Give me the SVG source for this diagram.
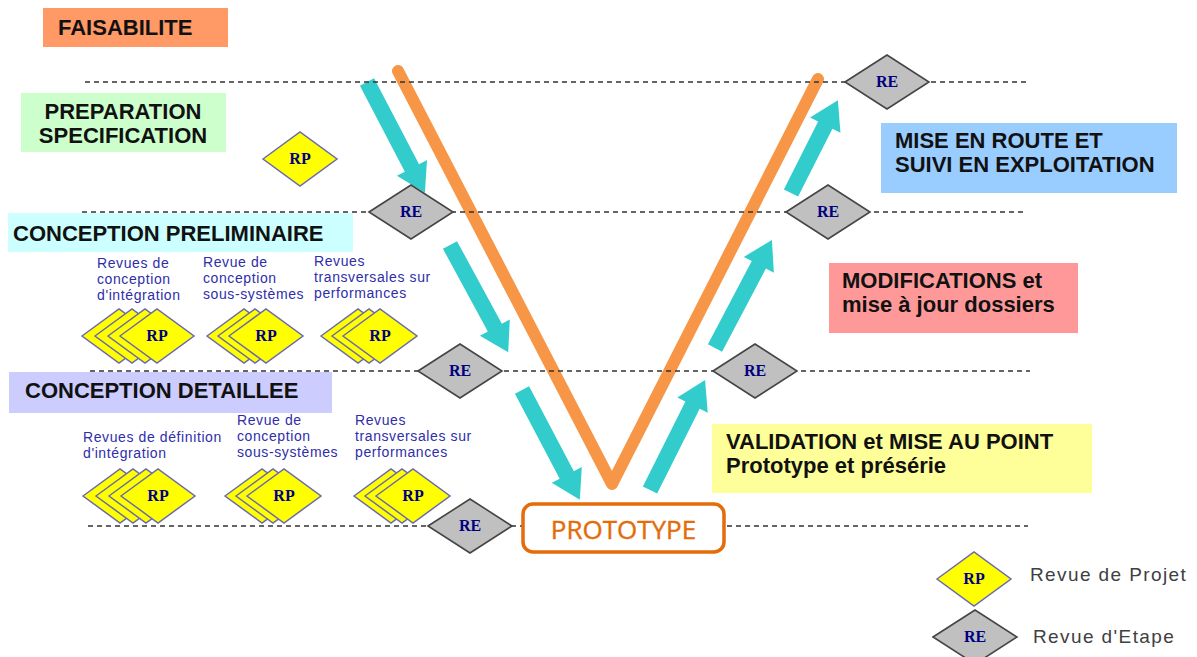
<svg xmlns="http://www.w3.org/2000/svg" width="1197" height="657" viewBox="0 0 1197 657">
<style>
.h{font-family:"Liberation Sans",Arial,sans-serif;font-weight:bold;font-size:22px;fill:#111}
.lbl{font-family:"Liberation Sans",Arial,sans-serif;font-size:14px;letter-spacing:0.6px;fill:#2E2EAA}
.leg{font-family:"Liberation Sans",Arial,sans-serif;font-size:19px;letter-spacing:1.4px;fill:#404040}
.dt{font-family:"Liberation Serif","Times New Roman",serif;font-weight:bold;font-size:16px;fill:#000080;text-anchor:middle}
.re{fill:#C0C0C0;stroke:#444;stroke-width:1.6}
.rp{fill:#FFFF00;stroke:#6A6AB0;stroke-width:1.5}
.dash{stroke:#333;stroke-width:1.5;stroke-dasharray:5 4;fill:none}
.arr{fill:#33CCCC}
</style>
<defs>
<polygon id="reShape" class="re" points="-42,0 0,-27 42,0 0,27"/>
<polygon id="rpShape" class="rp" points="-37,0 0,-27 37,0 0,27"/>
</defs>
<rect width="1197" height="657" fill="#fff"/>

<g id="phase-boxes">
<g id="faisabilite"><rect x="43" y="8" width="185" height="39" fill="#FF9966"/><text class="h" x="58" y="35">FAISABILITE</text></g>
<g id="preparation"><rect x="21" y="93" width="205" height="59" fill="#CCFFCC"/><text class="h" x="123" y="119" text-anchor="middle">PREPARATION</text><text class="h" x="123" y="143" text-anchor="middle">SPECIFICATION</text></g>
<g id="conception-prelim"><rect x="8" y="213" width="345" height="39" fill="#CCFFFF"/><text class="h" x="13" y="241">CONCEPTION PRELIMINAIRE</text></g>
<g id="conception-detail"><rect x="9" y="372" width="323" height="41" fill="#CCCCFF"/><text class="h" x="25" y="398">CONCEPTION DETAILLEE</text></g>
<g id="mise-en-route"><rect x="881" y="123" width="296" height="70" fill="#99CCFF"/><text class="h" x="895" y="148">MISE EN ROUTE ET</text><text class="h" x="895" y="172">SUIVI EN EXPLOITATION</text></g>
<g id="modifications"><rect x="829" y="263" width="249" height="70" fill="#FF9999"/><text class="h" x="842" y="288">MODIFICATIONS et</text><text class="h" x="842" y="312">mise à jour dossiers</text></g>
<g id="validation"><rect x="712" y="424" width="380" height="69" fill="#FFFF99"/><text class="h" x="726" y="449">VALIDATION et MISE AU POINT</text><text class="h" x="726" y="473">Prototype et présérie</text></g>
</g>

<g id="connectors">
<polyline points="398,71 612,484 818,79" fill="none" stroke="#F79646" stroke-width="12" stroke-linecap="round" stroke-linejoin="round"/>
<g id="arrows">
<polygon class="arr" transform="translate(367,82) rotate(62.4)" points="0,-8 97,-8 97,-17 125,0 97,17 97,8 0,8"/>
<polygon class="arr" transform="translate(450,245) rotate(61.5)" points="0,-8 94,-8 94,-17 122,0 94,17 94,8 0,8"/>
<polygon class="arr" transform="translate(522,390) rotate(62.2)" points="0,-8 96,-8 96,-17 124,0 96,17 96,8 0,8"/>
<polygon class="arr" transform="translate(650,490) rotate(-63.4)" points="0,-8 95,-8 95,-17 123,0 95,17 95,8 0,8"/>
<polygon class="arr" transform="translate(715,348) rotate(-62.2)" points="0,-8 94,-8 94,-17 122,0 94,17 94,8 0,8"/>
<polygon class="arr" transform="translate(791,193) rotate(-63.2)" points="0,-8 76,-8 76,-17 104,0 76,17 76,8 0,8"/>
</g>
<line class="dash" x1="85" y1="82" x2="1028" y2="82"/>
<line class="dash" x1="82" y1="212" x2="1024" y2="212"/>
<line class="dash" x1="90" y1="371" x2="1030" y2="371"/>
<line class="dash" x1="88" y1="526" x2="1028" y2="526"/>
</g>

<g id="prototype"><rect x="523" y="504" width="201" height="48" rx="10" fill="#fff" stroke="#E46C0A" stroke-width="3.5"/><text x="623.5" y="539" text-anchor="middle" font-family="'Open Sans','Liberation Sans',sans-serif" font-size="26" fill="#E46C0A" stroke="#E46C0A" stroke-width="0.4">PROTOTYPE</text></g>

<g id="re-1"><use href="#reShape" x="887" y="82"/><text class="dt" x="887" y="87">RE</text></g>
<g id="re-2"><use href="#reShape" x="411" y="212"/><text class="dt" x="411" y="217">RE</text></g>
<g id="re-3"><use href="#reShape" x="828" y="212"/><text class="dt" x="828" y="217">RE</text></g>
<g id="re-4"><use href="#reShape" x="460" y="371"/><text class="dt" x="460" y="376">RE</text></g>
<g id="re-5"><use href="#reShape" x="755" y="371"/><text class="dt" x="755" y="376">RE</text></g>
<g id="re-6"><use href="#reShape" x="470" y="526"/><text class="dt" x="470" y="531">RE</text></g>

<g id="rp-single"><use href="#rpShape" x="300" y="159"/><text class="dt" x="300" y="164">RP</text></g>

<g id="rp-group-1">
<use href="#rpShape" x="119" y="336"/><use href="#rpShape" x="132" y="336"/><use href="#rpShape" x="145" y="336"/><use href="#rpShape" x="157" y="336"/><text class="dt" x="157" y="341">RP</text>
<text class="lbl" x="97" y="268">Revues de</text><text class="lbl" x="97" y="284">conception</text><text class="lbl" x="97" y="300">d'intégration</text>
</g>
<g id="rp-group-2">
<use href="#rpShape" x="244" y="336"/><use href="#rpShape" x="255" y="336"/><use href="#rpShape" x="266" y="336"/><text class="dt" x="266" y="341">RP</text>
<text class="lbl" x="203" y="267">Revue de</text><text class="lbl" x="203" y="283">conception</text><text class="lbl" x="203" y="299">sous-systèmes</text>
</g>
<g id="rp-group-3">
<use href="#rpShape" x="358" y="336"/><use href="#rpShape" x="369" y="336"/><use href="#rpShape" x="380" y="336"/><text class="dt" x="380" y="341">RP</text>
<text class="lbl" x="314" y="266">Revues</text><text class="lbl" x="314" y="282">transversales sur</text><text class="lbl" x="314" y="298">performances</text>
</g>
<g id="rp-group-4">
<use href="#rpShape" x="120" y="496"/><use href="#rpShape" x="133" y="496"/><use href="#rpShape" x="146" y="496"/><use href="#rpShape" x="158" y="496"/><text class="dt" x="158" y="501">RP</text>
<text class="lbl" x="83" y="442">Revues de définition</text><text class="lbl" x="83" y="458">d'intégration</text>
</g>
<g id="rp-group-5">
<use href="#rpShape" x="262" y="496"/><use href="#rpShape" x="273" y="496"/><use href="#rpShape" x="284" y="496"/><text class="dt" x="284" y="501">RP</text>
<text class="lbl" x="237" y="425">Revue de</text><text class="lbl" x="237" y="441">conception</text><text class="lbl" x="237" y="457">sous-systèmes</text>
</g>
<g id="rp-group-6">
<use href="#rpShape" x="391" y="496"/><use href="#rpShape" x="402" y="496"/><use href="#rpShape" x="413" y="496"/><text class="dt" x="413" y="501">RP</text>
<text class="lbl" x="355" y="425">Revues</text><text class="lbl" x="355" y="441">transversales sur</text><text class="lbl" x="355" y="457">performances</text>
</g>

<g id="legend">
<g id="legend-rp"><use href="#rpShape" x="974" y="579"/><text class="dt" x="974" y="584">RP</text><text class="leg" x="1030" y="581">Revue de Projet</text></g>
<g id="legend-re"><use href="#reShape" x="975" y="637"/><text class="dt" x="975" y="642">RE</text><text class="leg" x="1033" y="643">Revue d'Etape</text></g>
</g>
</svg>
